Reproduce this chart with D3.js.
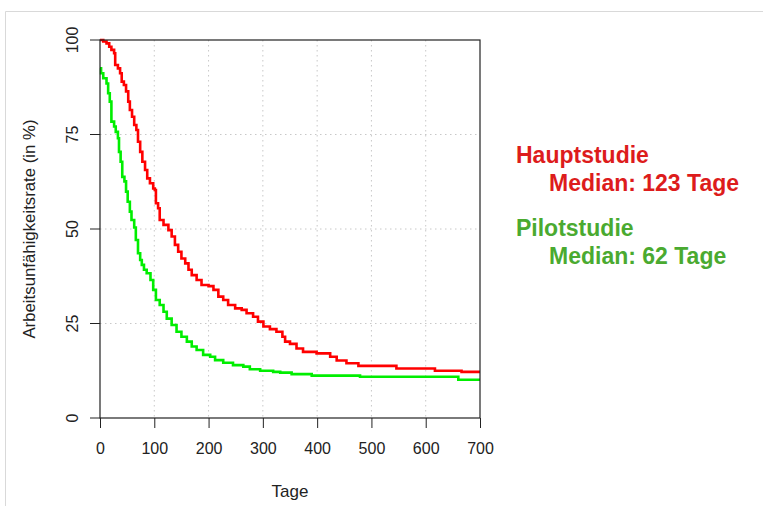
<!DOCTYPE html>
<meta charset="utf-8">
<style>
    body { margin: 0; background: #fff; }
    text { font-family: "Liberation Sans", Arial, sans-serif; }
    .grid line { stroke: #c8c8c8; stroke-dasharray: 1.5, 3.5; }
    .axis path, .axis line { stroke: #222; }
    .axis text { font-size: 16px; fill: #222; }
</style>
<svg width="763" height="506"></svg>
<script src="https://d3js.org/d3.v7.min.js"></script>
<script>
    // Kaplan-Meier style steps: [Tage, Rate in %]
    var hauptDays = [0, 6, 12, 17, 21, 26, 28, 33, 37, 40, 44, 48, 52, 55, 59, 63, 67, 70, 74, 78, 83, 87, 92, 98, 101, 103, 107, 110, 117, 126, 132, 138, 144, 150, 157, 163, 169, 178, 187, 200, 209, 218, 227, 236, 249, 261, 270, 282, 291, 301, 313, 325, 336, 341, 350, 362, 374, 399, 424, 436, 454, 476, 546, 617, 666, 700];
    var hauptRate = [100, 99.6, 99.1, 98.2, 97.4, 96.5, 93.4, 92.5, 91.2, 89, 88.1, 86.4, 83.7, 81.5, 79.7, 77.5, 76.2, 73.1, 70.4, 67.8, 65.6, 63.4, 62.1, 60.7, 60.3, 56.8, 55.5, 52.4, 51.1, 49.7, 48, 45.8, 44, 42.2, 40.9, 39.2, 37.8, 36.5, 35.2, 34.9, 33.9, 32.1, 31.2, 29.9, 29, 28.6, 27.7, 26.8, 25.5, 24.2, 23.5, 22.8, 21.5, 20.2, 19.6, 18.4, 17.5, 17.1, 16.2, 15.2, 14.5, 13.8, 13.1, 12.5, 12.2, 12.2];

    var pilotDays = [0, 2, 6, 12, 15, 18, 21, 26, 29, 33, 35, 38, 41, 45, 48, 51, 55, 58, 63, 66, 70, 74, 77, 81, 86, 93, 98, 103, 110, 117, 123, 132, 141, 150, 160, 169, 178, 190, 203, 212, 227, 245, 264, 276, 295, 319, 332, 353, 390, 479, 660, 700];
    var pilotRate = [92.5, 91.2, 89.9, 88.5, 85.9, 83.7, 78.4, 77.1, 75.7, 74, 70.4, 67.8, 63.8, 62.6, 59.9, 57.2, 54.6, 52.4, 50.4, 47.1, 43.6, 41.8, 40.5, 39.2, 38.3, 36.5, 33.9, 31.2, 29.9, 28.1, 26.3, 24.6, 22.8, 21.5, 20.2, 18.9, 18, 16.7, 16.2, 15.3, 14.6, 14, 13.6, 12.9, 12.5, 12.2, 12, 11.6, 11.2, 10.9, 10.1, 10.1];

    var xTicks = [0, 100, 200, 300, 400, 500, 600, 700];
    var yTicks = [0, 25, 50, 75, 100];

    var svg = d3.select('svg');

    // light frame round the figure
    svg.append('path')
        .attr('d', 'M5.5,506 V11.5 H763')
        .attr('fill', 'none')
        .attr('stroke', '#d9d9d9');

    var margin = { top: 40, left: 100 },
        width = 380,
        height = 378;

    var x = d3.scaleLinear().domain([0, 700]).range([0, width]),
        y = d3.scaleLinear().domain([0, 100]).range([height, 0]);

    var g = svg.append('g')
        .attr('transform', 'translate(' + margin.left + ',' + margin.top + ')');

    // dotted grid
    var grid = g.append('g').attr('class', 'grid');
    grid.selectAll('.gx')
        .data(xTicks.slice(1, -1))
        .enter().append('line')
        .attr('x1', d => x(d)).attr('x2', d => x(d))
        .attr('y1', 0).attr('y2', height);
    grid.selectAll('.gy')
        .data(yTicks.slice(1, -1))
        .enter().append('line')
        .attr('x1', 0).attr('x2', width)
        .attr('y1', d => y(d)).attr('y2', d => y(d));

    // curves
    var line = d3.line()
        .x(d => x(d[0]))
        .y(d => y(d[1]))
        .curve(d3.curveStepAfter);

    var pilot = d3.zip(pilotDays, pilotRate),
        haupt = d3.zip(hauptDays, hauptRate);

    g.append('path')
        .datum(pilot)
        .attr('fill', 'none')
        .attr('stroke', '#00ee00')
        .attr('stroke-width', 2.6)
        .attr('d', line);

    g.append('path')
        .datum(haupt)
        .attr('fill', 'none')
        .attr('stroke', '#ff0000')
        .attr('stroke-width', 2.6)
        .attr('d', line);

    // box
    g.append('rect')
        .attr('width', width)
        .attr('height', height)
        .attr('fill', 'none')
        .attr('stroke', '#222')
        .attr('stroke-width', 1.2);

    // axes
    var xAxis = g.append('g')
        .attr('class', 'axis')
        .attr('transform', 'translate(0,' + height + ')')
        .call(d3.axisBottom(x).tickValues(xTicks).tickSize(10).tickPadding(15).tickSizeOuter(0));
    xAxis.select('.domain').remove();

    var yAxis = g.append('g')
        .attr('class', 'axis')
        .call(d3.axisLeft(y).tickValues(yTicks).tickSize(10).tickSizeOuter(0));
    yAxis.select('.domain').remove();
    yAxis.selectAll('text')
        .attr('transform', d => 'translate(-22,' + y(d) + ') rotate(-90)')
        .attr('x', 0).attr('y', 0).attr('dy', 0)
        .attr('text-anchor', 'middle');
    yAxis.selectAll('.tick').attr('transform', null);
    yAxis.selectAll('.tick line').attr('transform', d => 'translate(0,' + y(d) + ')');

    // axis titles
    svg.append('text')
        .attr('x', 290).attr('y', 497)
        .attr('text-anchor', 'middle')
        .attr('font-size', 17)
        .attr('fill', '#222')
        .text('Tage');

    svg.append('text')
        .attr('transform', 'translate(35,229) rotate(-90)')
        .attr('text-anchor', 'middle')
        .attr('font-size', 16.8)
        .attr('fill', '#222')
        .text('Arbeitsunfähigkeitsrate (in %)');

    // legend
    var legend = [
        { name: 'Hauptstudie', median: 'Median: 123 Tage', color: '#dd1c1c', y: 163 },
        { name: 'Pilotstudie', median: 'Median: 62 Tage', color: '#4aaa30', y: 236 }
    ];
    var lg = svg.selectAll('.leg')
        .data(legend)
        .enter().append('g');
    lg.append('text')
        .attr('x', 516).attr('y', d => d.y)
        .attr('font-size', 23).attr('font-weight', 'bold')
        .attr('fill', d => d.color)
        .text(d => d.name);
    lg.append('text')
        .attr('x', 549).attr('y', d => d.y + 28)
        .attr('font-size', 23).attr('font-weight', 'bold')
        .attr('fill', d => d.color)
        .text(d => d.median);
</script>
